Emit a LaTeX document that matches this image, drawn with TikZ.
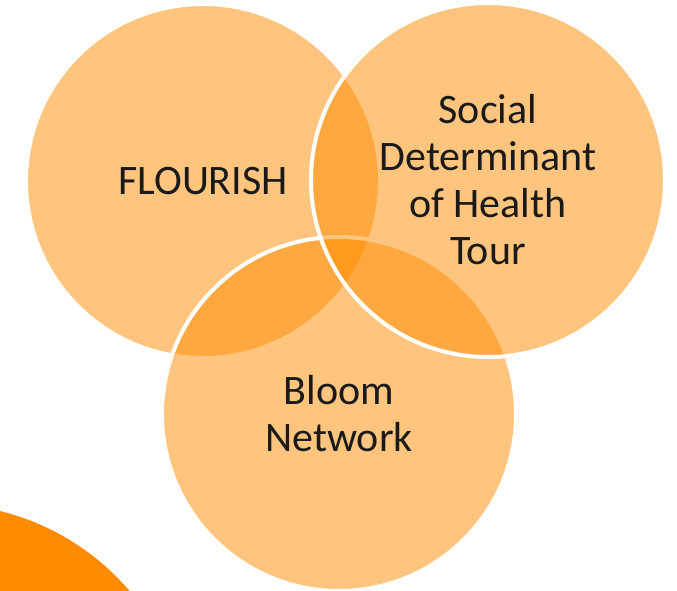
\documentclass[tikz,border=0pt]{standalone}
\usepackage{fontspec}
\setmainfont{Carlito}
\definecolor{vennorange}{HTML}{FF8C00}
\definecolor{venntext}{HTML}{1A1A1A}
\begin{document}
\begin{tikzpicture}[x=1pt,y=-1pt,
  venn/.style={circle,minimum size=354pt,inner sep=0pt,fill=vennorange,fill opacity=0.5,
    text opacity=1,draw=white,line width=4pt,text=venntext,align=center,
    font=\fontsize{42}{47}\selectfont}]
  \clip (0,0) rectangle (677,591);
  \fill[vennorange] (-59,752) circle (248pt);
  \node[venn] (flourish) at (203,181) {FLOURISH};
  \node[venn] (bloom) at (339,414) {Bloom\\Network};
  \node[venn] (sdoh) at (488,180) {Social\\Determinant\\of Health\\Tour};
\end{tikzpicture}
\end{document}
